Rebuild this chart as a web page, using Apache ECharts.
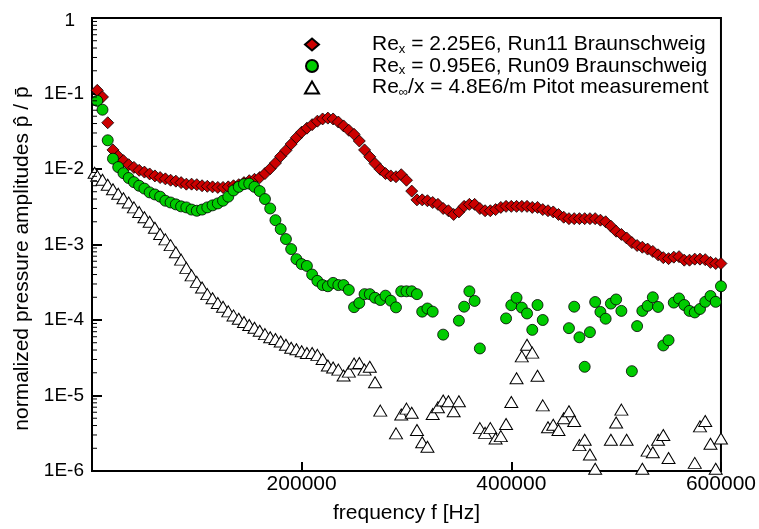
<!DOCTYPE html>
<html>
<head>
<meta charset="utf-8">
<script src="https://cdn.jsdelivr.net/npm/echarts/dist/echarts.min.js"></script>
<style>html,body{margin:0;padding:0;background:#fff;}#chart{width:759px;height:529px;}</style>
</head>
<body>
<div id="chart"></div>
<script>
// frequencies [Hz]
const freq = [2500,5000,10000,15000,20000,25000,30000,35000,40000,45000,50000,55000,60000,65000,70000,75000,80000,85000,90000,95000,
100000,105000,110000,115000,120000,125000,130000,135000,140000,145000,150000,155000,160000,165000,170000,175000,180000,185000,190000,195000,
200000,205000,210000,215000,220000,225000,230000,235000,240000,245000,250000,255000,260000,265000,270000,275000,280000,285000,290000,295000,
300000,305000,310000,315000,320000,325000,330000,335000,340000,345000,350000,355000,360000,365000,370000,375000,380000,385000,390000,395000,
400000,405000,410000,415000,420000,425000,430000,435000,440000,445000,450000,455000,460000,465000,470000,475000,480000,485000,490000,495000,
500000,505000,510000,515000,520000,525000,530000,535000,540000,545000,550000,555000,560000,565000,570000,575000,580000,585000,590000,595000,600000];

// Re_x = 2.25E6, Run11
const ampRun11 = [null,0.11,0.090,0.041,0.0179,0.0148,0.0129,0.0114,0.0105,0.0096,0.0091,0.0086,0.0081,0.0077,0.0074,0.0071,0.0069,0.0066,0.0063,0.0063,
0.0062,0.0060,0.0059,0.0058,0.0057,0.0057,0.0058,0.0060,0.0062,0.0066,0.0070,0.0073,0.0077,0.0087,0.0101,0.0120,0.0147,0.0176,0.0214,0.0260,
0.0307,0.0347,0.0387,0.0430,0.0460,0.0472,0.0460,0.0419,0.0372,0.0326,0.0288,0.0235,0.0179,0.0145,0.0118,0.0099,0.0087,0.0081,0.0079,0.0084,
0.0071,0.0051,0.0039,0.0039,0.0038,0.0036,0.0034,0.0030,0.0028,0.0025,0.0027,0.0032,0.0034,0.0034,0.0030,0.0028,0.0028,0.0029,0.0031,0.0032,
0.0032,0.0032,0.0032,0.0032,0.0031,0.0031,0.0029,0.0028,0.0027,0.0025,0.0023,0.0022,0.0022,0.0022,0.0022,0.0022,0.0022,0.0021,0.0020,0.00175,
0.00150,0.00136,0.00122,0.00106,0.00097,0.00092,0.00087,0.00081,0.00073,0.00067,0.00065,0.00068,0.00069,0.00062,0.00062,0.00064,0.00064,0.00063,0.00058,0.00056,0.00056];

// Re_x = 0.95E6, Run09
const ampRun09 = [null,0.080,0.061,0.024,0.0137,0.0106,0.0088,0.0076,0.0067,0.0060,0.0055,0.0049,0.0046,0.0043,0.0038,0.0036,0.0034,0.0032,0.0031,0.0029,
0.0028,0.0029,0.0031,0.0033,0.0035,0.0038,0.0043,0.0052,0.0058,0.0063,0.0064,0.0058,0.0051,0.0040,0.0030,0.0021,0.0016,0.00118,0.00087,0.00064,
0.00055,0.00052,0.00040,0.00033,0.00029,0.00028,0.00031,0.00029,0.00029,0.00025,0.000148,0.000168,0.00022,0.00022,0.000197,0.000184,0.00021,0.00018,0.000147,0.00024,
0.00024,0.00024,0.00022,0.000129,0.000142,0.000129,null,6.4e-5,null,null,9.8e-5,1.5e-4,2.4e-4,1.79e-4,4.2e-5,null,null,null,null,1.05e-4,
1.57e-4,1.97e-4,1.46e-4,1.22e-4,7.4e-5,1.58e-4,1.0e-4,null,null,null,null,7.8e-5,1.5e-4,5.9e-5,2.4e-5,6.9e-5,1.73e-4,1.28e-4,1.04e-4,1.65e-4,
1.87e-4,1.32e-4,null,2.1e-5,8.3e-5,1.32e-4,1.54e-4,2.0e-4,1.49e-4,4.6e-5,5.4e-5,1.7e-4,1.93e-4,1.58e-4,1.32e-4,1.26e-4,1.4e-4,1.74e-4,2.08e-4,1.74e-4,2.8e-4];

// Re_inf/x = 4.8E6/m, Pitot
const ampPitot = [0.0089,0.0081,0.0072,0.0062,0.0054,0.0047,0.0041,0.0036,0.0031,0.0027,0.0023,0.0020,0.00167,0.00138,0.00117,0.00098,0.00079,0.00063,0.00049,0.00039,
0.00032,0.00027,0.00022,0.000194,0.000168,0.000150,0.000130,0.000115,0.000104,9.4e-5,8.6e-5,7.9e-5,7.2e-5,6.5e-5,5.9e-5,5.6e-5,5.2e-5,4.7e-5,4.3e-5,4.1e-5,
3.85e-5,3.65e-5,3.65e-5,3.45e-5,3.05e-5,2.5e-5,2.35e-5,2.2e-5,1.84e-5,2.07e-5,2.65e-5,2.7e-5,2.2e-5,2.4e-5,1.5e-5,6.3e-6,null,null,3.15e-6,5.6e-6,
6.7e-6,5.9e-6,3.5e-6,2.4e-6,2.1e-6,5.7e-6,7.0e-6,8.6e-6,8.4e-6,6.2e-6,8.4e-6,null,null,null,3.7e-6,3.2e-6,3.7e-6,2.7e-6,2.9e-6,4.2e-6,
8.2e-6,1.69e-5,3.3e-5,4.7e-5,3.7e-5,1.83e-5,7.4e-6,3.8e-6,4.1e-6,3.5e-6,5.0e-6,6.2e-6,4.6e-6,2.2e-6,2.6e-6,1.65e-6,1.07e-6,null,null,2.6e-6,
4.4e-6,6.5e-6,2.6e-6,null,null,1.07e-6,1.86e-6,1.77e-6,2.6e-6,3.0e-6,1.49e-6,null,null,null,null,1.28e-6,3.9e-6,4.6e-6,2.3e-6,1.07e-6,2.7e-6];

const seriesNames = ['Run11', 'Run09', 'Pitot'];
const legendParts = [
  ['Re', 'x', ' = 2.25E6, Run11 Braunschweig'],
  ['Re', 'x', ' = 0.95E6, Run09 Braunschweig'],
  ['Re', '\u221E', '/x = 4.8E6/m Pitot measurement']
];
const xTickValues = [200000, 400000, 600000];

function pairs(fs, vs) {
  const out = [];
  for (let i = 0; i < fs.length; i++) if (vs[i] != null) out.push([fs[i], vs[i]]);
  return out;
}

// minor tick values for log axis
const minorVals = [];
for (let d = -6; d < 0; d++) for (let k = 2; k <= 9; k++) minorVals.push([0, k * Math.pow(10, d)]);

const chart = echarts.init(document.getElementById('chart'), null, {renderer: 'canvas'});
const FONT = 'Liberation Sans, Arial, Helvetica, sans-serif';

const option = {
  backgroundColor: '#ffffff',
  animation: false,
  textStyle: {fontFamily: FONT, color: '#000'},
  grid: {left: 92, right: 37, top: 18, bottom: 52, show: true, borderColor: '#000', borderWidth: 2, backgroundColor: 'transparent'},
  legend: {
    orient: 'vertical', left: 299, top: 29, itemWidth: 14, itemHeight: 12, itemGap: 0,
    selectedMode: false,
    data: seriesNames,
    formatter: function (name) {
      const p = legendParts[seriesNames.indexOf(name)];
      return '{g| }{n|' + p[0] + '}{s|' + p[1] + '}{n|' + p[2] + '}';
    },
    textStyle: {
      fontFamily: FONT, color: '#000', fontSize: 21,
      rich: {
        g: {width: 48, fontSize: 21, lineHeight: 22},
        n: {fontFamily: FONT, fontSize: 21, lineHeight: 22, color: '#000'},
        s: {fontFamily: FONT, fontSize: 13, lineHeight: 8, verticalAlign: 'bottom', color: '#000'}
      }
    }
  },
  xAxis: {
    type: 'value', min: 0, max: 600000, interval: 200000,
    axisLine: {show: true, lineStyle: {color: '#000', width: 2}},
    axisTick: {show: true, inside: true, length: 9, lineStyle: {color: '#000', width: 2}},
    axisLabel: {
      color: '#000', fontSize: 21, fontFamily: FONT, margin: 3,
      formatter: function (v) { return xTickValues.indexOf(v) >= 0 ? String(v) : ''; }
    },
    splitLine: {show: false},
    name: 'frequency f [Hz]', nameLocation: 'middle', nameGap: 32,
    nameTextStyle: {color: '#000', fontSize: 21, fontFamily: FONT}
  },
  yAxis: {
    type: 'log', logBase: 10, min: 1e-6, max: 1,
    axisLine: {show: true, lineStyle: {color: '#000', width: 2}},
    axisTick: {show: true, inside: true, length: 10, lineStyle: {color: '#000', width: 2}},
    axisLabel: {
      color: '#000', fontSize: 19, fontFamily: FONT, margin: 8,
      formatter: function (v) {
        const e = Math.round(Math.log10(v));
        if (e === 0) return '{one|1}';
        return '1E' + e;
      },
      rich: {one: {fontSize: 19, fontFamily: FONT, color: '#000', padding: [6, 9, 0, 0]}}
    },
    splitLine: {show: false},
    name: 'normalized pressure amplitudes p\u0302 / p\u0304', nameLocation: 'middle', nameGap: 50, nameRotate: 90,
    nameTextStyle: {color: '#000', fontSize: 21, fontFamily: FONT, padding: [0, 28, 0, 0]}
  },
  series: [
    {
      name: 'Run11', type: 'scatter', symbol: 'diamond', symbolSize: 12,
      itemStyle: {color: '#cc0000', borderColor: '#000', borderWidth: 0.8, opacity: 1},
      data: pairs(freq, ampRun11), z: 3
    },
    {
      name: 'Run09', type: 'scatter', symbol: 'circle', symbolSize: 11,
      itemStyle: {color: '#00cc00', borderColor: '#000', borderWidth: 0.8, opacity: 1},
      data: pairs(freq, ampRun09), z: 4
    },
    {
      name: 'Pitot', type: 'scatter', symbol: 'triangle', symbolSize: [13, 11],
      itemStyle: {color: '#ffffff', borderColor: '#000', borderWidth: 1, opacity: 1},
      data: pairs(freq, ampPitot), z: 2
    },
    {
      type: 'custom', silent: true, clip: false, z: 10,
      data: minorVals,
      renderItem: function (params, api) {
        const p = api.coord([api.value(0), api.value(1)]);
        return {type: 'line', shape: {x1: p[0], y1: p[1], x2: p[0] + 5, y2: p[1]}, style: {stroke: '#000', lineWidth: 1}};
      }
    }
  ]
};
chart.setOption(option);
</script>
</body>
</html>
